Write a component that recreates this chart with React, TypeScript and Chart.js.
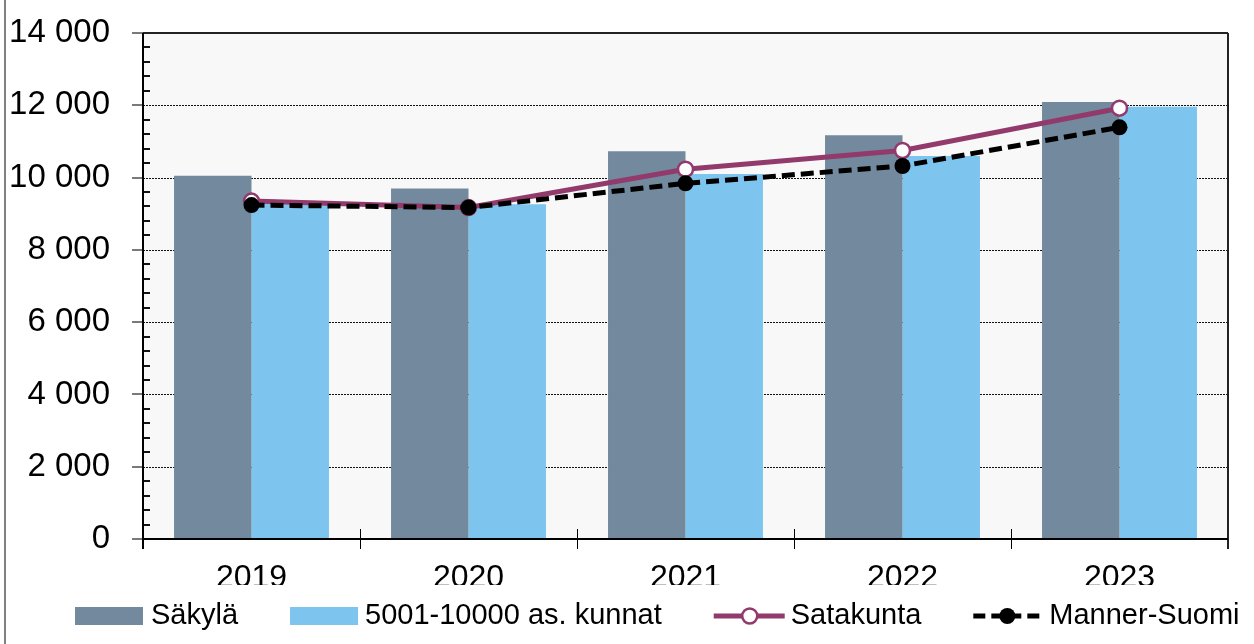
import React, { useEffect, useRef } from 'react';
import { Chart, registerables } from 'chart.js';

Chart.register(...registerables);

const categories = ['2019', '2020', '2021', '2022', '2023'];
const sakyla = [10050, 9700, 10730, 11170, 12090];
const kunnat = [9280, 9260, 10100, 10600, 11960];
const satakunta = [9350, 9170, 10230, 10750, 11920];
const mannerSuomi = [9240, 9170, 9840, 10320, 11390];
const yTicks = [0, 2000, 4000, 6000, 8000, 10000, 12000, 14000];
const seriesNames = ['Säkylä', '5001-10000 as. kunnat', 'Satakunta', 'Manner-Suomi'];

const FONT = "'Liberation Sans', Arial, sans-serif";
const C_SAKYLA = '#73899E';
const C_KUNNAT = '#7DC5EE';
const C_SATA = '#923A6C';
const C_MANNER = '#000000';

const fmt = (v: number) => String(v).replace(/\B(?=(\d{3})+(?!\d))/g, ' ');

const decor = {
  id: 'decor',
  beforeDraw(chart: any) {
    const { ctx, chartArea: a } = chart;
    ctx.save();
    ctx.fillStyle = '#ffffff';
    ctx.fillRect(0, 0, chart.width, chart.height);
    ctx.fillStyle = '#f8f8f8';
    ctx.fillRect(a.left, a.top, a.right - a.left, a.bottom - a.top);
    ctx.strokeStyle = '#808080';
    ctx.lineWidth = 2;
    ctx.beginPath();
    ctx.moveTo(5, 0);
    ctx.lineTo(5, chart.height);
    ctx.stroke();
    ctx.restore();
  },
  beforeDatasetsDraw(chart: any) {
    const { ctx, chartArea: a } = chart;
    const ys = chart.scales.y;
    ctx.save();
    ctx.strokeStyle = '#111111';
    ctx.lineWidth = 1;
    ctx.setLineDash([2, 1]);
    yTicks.forEach((v) => {
      if (v <= yTicks[0] || v >= yTicks[yTicks.length - 1]) return;
      const y = Math.round(ys.getPixelForValue(v)) + 0.5;
      ctx.beginPath();
      ctx.moveTo(a.left, y);
      ctx.lineTo(a.right, y);
      ctx.stroke();
    });
    ctx.restore();
  },
  afterDatasetsDraw(chart: any) {
    const { ctx, chartArea: a } = chart;
    const ys = chart.scales.y;
    const xs = chart.scales.x;
    ctx.save();
    ctx.strokeStyle = '#111';
    ctx.lineWidth = 2;
    const maxV = yTicks[yTicks.length - 1];
    for (let v = 400; v < maxV; v += 400) {
      if (v % 2000 === 0) continue;
      const y = Math.round(ys.getPixelForValue(v));
      ctx.beginPath();
      ctx.moveTo(a.left, y);
      ctx.lineTo(a.left + 7, y);
      ctx.stroke();
    }
    ctx.strokeStyle = '#7a7a7a';
    yTicks.forEach((v) => {
      const y = Math.round(ys.getPixelForValue(v));
      ctx.beginPath();
      ctx.moveTo(a.left - 11, y);
      ctx.lineTo(a.left, y);
      ctx.stroke();
    });
    ctx.strokeStyle = '#222';
    ctx.lineWidth = 2;
    ctx.beginPath();
    ctx.moveTo(a.left, a.top);
    ctx.lineTo(a.right, a.top);
    ctx.stroke();
    ctx.beginPath();
    ctx.moveTo(a.right, a.top);
    ctx.lineTo(a.right, a.bottom + 10);
    ctx.stroke();
    ctx.strokeStyle = '#000';
    ctx.beginPath();
    ctx.moveTo(a.left, a.top);
    ctx.lineTo(a.left, a.bottom + 10);
    ctx.stroke();
    ctx.beginPath();
    ctx.moveTo(a.left, a.bottom);
    ctx.lineTo(a.right, a.bottom);
    ctx.stroke();
    ctx.lineWidth = 1;
    const half = (xs.getPixelForValue(1) - xs.getPixelForValue(0)) / 2;
    for (let i = 1; i < categories.length; i++) {
      const x = Math.round(xs.getPixelForValue(i) - half) + 0.5;
      ctx.beginPath();
      ctx.moveTo(x, a.bottom - 10);
      ctx.lineTo(x, a.bottom + 10);
      ctx.stroke();
    }
    ctx.restore();
  },
  afterDraw(chart: any) {
    const { ctx, chartArea: a } = chart;
    const xs = chart.scales.x;
    ctx.save();
    ctx.beginPath();
    ctx.rect(0, a.bottom + 11, chart.width, 585 - (a.bottom + 11));
    ctx.clip();
    ctx.fillStyle = '#000';
    ctx.font = `32px ${FONT}`;
    ctx.textAlign = 'center';
    ctx.textBaseline = 'alphabetic';
    categories.forEach((c, i) => {
      ctx.fillText(c, xs.getPixelForValue(i), 587);
    });
    ctx.restore();

    ctx.save();
    ctx.font = `29px ${FONT}`;
    ctx.textAlign = 'left';
    ctx.textBaseline = 'alphabetic';
    ctx.fillStyle = '#000';
    const cy = 616;
    const base = 624;
    let x = 75;
    ctx.fillStyle = C_SAKYLA;
    ctx.fillRect(x, 607, 68, 18);
    ctx.fillStyle = '#000';
    ctx.fillText(seriesNames[0], x + 76, base);
    x += 76 + ctx.measureText(seriesNames[0]).width + 52;
    ctx.fillStyle = C_KUNNAT;
    ctx.fillRect(x, 607, 68, 18);
    ctx.fillStyle = '#000';
    ctx.fillText(seriesNames[1], x + 75, base);
    x += 75 + ctx.measureText(seriesNames[1]).width + 52;
    ctx.strokeStyle = C_SATA;
    ctx.lineWidth = 5;
    ctx.beginPath();
    ctx.moveTo(x, cy);
    ctx.lineTo(x + 71, cy);
    ctx.stroke();
    ctx.beginPath();
    ctx.arc(x + 36, cy, 7.5, 0, Math.PI * 2);
    ctx.fillStyle = '#fff';
    ctx.fill();
    ctx.lineWidth = 2.5;
    ctx.stroke();
    ctx.fillStyle = '#000';
    ctx.fillText(seriesNames[2], x + 77, base);
    x += 77 + ctx.measureText(seriesNames[2]).width + 52;
    ctx.strokeStyle = C_MANNER;
    ctx.lineWidth = 5;
    ctx.setLineDash([12, 6]);
    ctx.beginPath();
    ctx.moveTo(x, cy);
    ctx.lineTo(x + 70, cy);
    ctx.stroke();
    ctx.setLineDash([]);
    ctx.beginPath();
    ctx.arc(x + 34, cy, 8, 0, Math.PI * 2);
    ctx.fillStyle = '#000';
    ctx.fill();
    ctx.fillText(seriesNames[3], x + 76, base);
    ctx.restore();
  },
};

export default function App() {
  const ref = useRef<HTMLCanvasElement | null>(null);

  useEffect(() => {
    document.body.style.margin = '0';
    const canvas = ref.current;
    if (!canvas) return;
    const chart = new Chart(canvas, {
      type: 'bar',
      data: {
        labels: categories,
        datasets: [
          {
            type: 'line',
            label: seriesNames[3],
            data: mannerSuomi,
            borderColor: C_MANNER,
            borderWidth: 5,
            borderDash: [13, 6],
            pointRadius: 8,
            pointHoverRadius: 8,
            pointBackgroundColor: C_MANNER,
            pointBorderColor: C_MANNER,
            pointBorderWidth: 0,
            tension: 0,
            fill: false,
            order: 0,
          } as any,
          {
            type: 'line',
            label: seriesNames[2],
            data: satakunta,
            borderColor: C_SATA,
            borderWidth: 5,
            pointRadius: 7.5,
            pointHoverRadius: 7.5,
            pointBackgroundColor: '#ffffff',
            pointBorderColor: C_SATA,
            pointBorderWidth: 2.5,
            tension: 0,
            fill: false,
            order: 1,
          } as any,
          {
            type: 'bar',
            label: seriesNames[0],
            data: sakyla,
            backgroundColor: C_SAKYLA,
            borderWidth: 0,
            categoryPercentage: 0.714,
            barPercentage: 1.0,
            order: 2,
          } as any,
          {
            type: 'bar',
            label: seriesNames[1],
            data: kunnat,
            backgroundColor: C_KUNNAT,
            borderWidth: 0,
            categoryPercentage: 0.714,
            barPercentage: 1.0,
            order: 3,
          } as any,
        ],
      },
      options: {
        responsive: false,
        maintainAspectRatio: false,
        animation: false,
        layout: { padding: { top: 33, right: 26, left: 0, bottom: 0 } },
        plugins: {
          legend: { display: false },
          tooltip: { enabled: false },
        },
        scales: {
          x: {
            grid: { display: false, drawTicks: false },
            border: { display: false },
            ticks: { display: false },
            afterFit: (s: any) => {
              s.height = 105;
              s.paddingLeft = 0;
              s.paddingRight = 0;
            },
          },
          y: {
            min: yTicks[0],
            max: yTicks[yTicks.length - 1],
            afterBuildTicks: (s: any) => {
              s.ticks = yTicks.map((v) => ({ value: v }));
            },
            grid: { display: false, drawTicks: false },
            border: { display: false },
            ticks: {
              padding: 33,
              color: '#000',
              font: { family: FONT, size: 33 },
              callback: (v: any) => fmt(Number(v)),
            },
            afterFit: (s: any) => {
              s.width = 143;
              s.paddingTop = 0;
              s.paddingBottom = 0;
            },
          },
        },
      } as any,
      plugins: [decor],
    });
    return () => chart.destroy();
  }, []);

  return (
    <div style={{ position: 'fixed', left: 0, top: 0, width: 1254, height: 644 }}>
      <canvas ref={ref} width={1254} height={644} style={{ display: 'block', width: 1254, height: 644 }} />
    </div>
  );
}
